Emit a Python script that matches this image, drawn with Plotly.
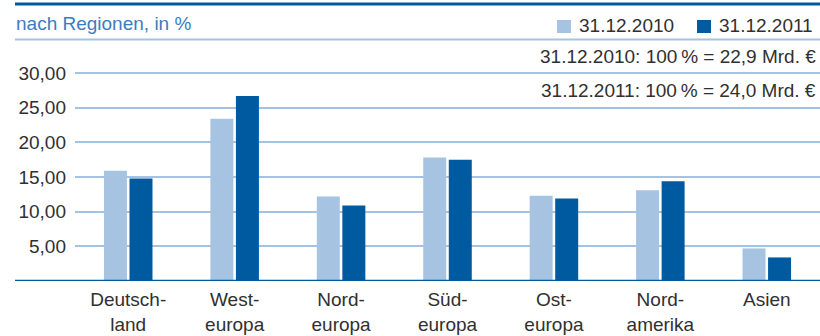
import plotly.graph_objects as go

categories = ["Deutsch-<br>land", "West-<br>europa", "Nord-<br>europa", "Süd-<br>europa",
              "Ost-<br>europa", "Nord-<br>amerika", "Asien"]
series_names = ["31.12.2010", "31.12.2011"]
values_2010 = [15.9, 23.4, 12.2, 17.8, 12.3, 13.1, 4.7]
values_2011 = [14.8, 26.7, 10.9, 17.5, 11.9, 14.4, 3.4]
series_colors = ["#a6c4e2", "#005aa0"]
y_tick_vals = [5, 10, 15, 20, 25, 30]
y_tick_text = ["5,00", "10,00", "15,00", "20,00", "25,00", "30,00"]
title_text = "nach Regionen, in %"
note_lines = ["31.12.2010: 100\u2009% = 22,9 Mrd. €", "31.12.2011: 100\u2009% = 24,0 Mrd. €"]

FONT = "Liberation Sans, Arial, sans-serif"
TXT = "#303030"
GRID = "#a5c3e1"
DARK = "#005aa0"

W, H = 820, 336
L, R, T, B = 75, 0, 72, 55
pw, ph = W - L - R, H - T - B


def px_x(x):
    return (x - L) / pw


def px_y(y):
    return (H - B - y) / ph


fig = go.Figure()
for name, vals, col in zip(series_names, [values_2010, values_2011], series_colors):
    fig.add_trace(go.Bar(x=list(range(len(categories))), y=vals, name=name,
                         marker=dict(color=col, line=dict(width=0)), showlegend=False))

shapes = [
    dict(type="line", xref="paper", yref="y", x0=px_x(15), x1=1, y0=0, y1=0,
         line=dict(color=DARK, width=2.5)),
    dict(type="line", xref="paper", yref="paper", x0=px_x(15), x1=1, y0=px_y(4), y1=px_y(4),
         line=dict(color=DARK, width=3)),
    dict(type="line", xref="paper", yref="paper", x0=px_x(15), x1=1, y0=px_y(39.5), y1=px_y(39.5),
         line=dict(color=GRID, width=2)),
]
annotations = [
    dict(text=title_text, xref="paper", yref="paper", x=px_x(14), y=px_y(24),
         xanchor="left", yanchor="middle", showarrow=False,
         font=dict(family=FONT, size=19, color="#3a7dbf")),
]
leg_sq_x = [557, 697]
leg_txt_x = [578, 718]
for i, (name, col) in enumerate(zip(series_names, series_colors)):
    shapes.append(dict(type="rect", xref="paper", yref="paper",
                       x0=px_x(leg_sq_x[i]), x1=px_x(leg_sq_x[i] + 14),
                       y0=px_y(20), y1=px_y(33), fillcolor=col, line=dict(width=0)))
    annotations.append(dict(text=name, xref="paper", yref="paper", x=px_x(leg_txt_x[i] - 1),
                            y=px_y(26), xanchor="left", yanchor="middle", showarrow=False,
                            font=dict(family=FONT, size=19, color=TXT)))
note_y = [57, 90]
for i, t in enumerate(note_lines):
    annotations.append(dict(text=t, xref="paper", yref="paper", x=px_x(818), y=px_y(note_y[i]),
                            xanchor="right", yanchor="middle", showarrow=False,
                            font=dict(family=FONT, size=19, color=TXT)))

fig.update_layout(
    width=W, height=H,
    margin=dict(l=L, r=R, t=T, b=B, pad=0),
    paper_bgcolor="white", plot_bgcolor="white",
    barmode="group", bargap=0.52, bargroupgap=0.1,
    shapes=shapes, annotations=annotations,
    xaxis=dict(range=[-0.5, 6.5], tickmode="array", tickvals=list(range(len(categories))),
               ticktext=categories, showgrid=False, zeroline=False, showline=False,
               ticks="", tickfont=dict(family=FONT, size=19, color=TXT), ticklabelstandoff=5),
    yaxis=dict(range=[0, 30.15], tickmode="array", tickvals=y_tick_vals, ticktext=y_tick_text,
               showgrid=True, gridcolor=GRID, gridwidth=2, zeroline=False, showline=False,
               ticks="", tickfont=dict(family=FONT, size=19, color=TXT), ticklabelstandoff=8),
    font=dict(family=FONT, color=TXT),
)

fig.write_html("out.html")
